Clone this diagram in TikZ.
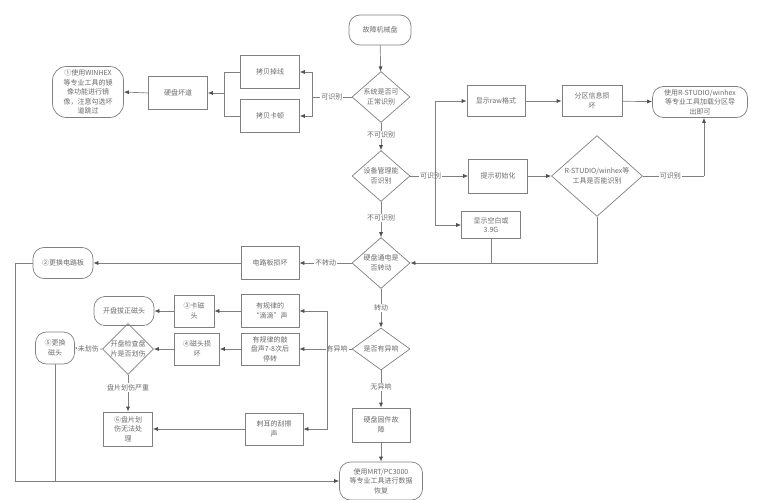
\documentclass[tikz,border=0pt]{standalone}
\usepackage{fontspec}
\setmainfont{Noto Sans CJK SC}
\usetikzlibrary{shapes.geometric,arrows.meta}
\definecolor{lc}{HTML}{808080}
\definecolor{tc}{HTML}{6A6A6A}
\definecolor{ac}{HTML}{505050}
\begin{document}
\begin{tikzpicture}[x=1pt,y=-1pt,
  every node/.style={font=\fontsize{7}{9.5}\selectfont, text=tc, align=center},
  box/.style={draw=lc, line width=0.7pt, rectangle, inner sep=1pt},
  term/.style={draw=lc, line width=0.7pt, rectangle, rounded corners=11pt, inner sep=1pt},
  dia/.style={draw=lc, line width=0.7pt, diamond, inner sep=0pt},
  lbl/.style={fill=white, inner sep=1pt},
  ln/.style={draw=lc, line width=0.7pt},
  arr/.style={ln, -{Latex[length=5pt,width=4pt,color=ac]}}]
\useasboundingbox (0,0) rectangle (763,500);
% main column
\node[term, minimum width=62pt, minimum height=30pt] (start) at (380,30) {故障机械盘};
\node[dia, minimum width=58pt, minimum height=42pt] (d1) at (381,97) {系统是否可\\正常识别};
\node[dia, minimum width=58pt, minimum height=42pt] (d2) at (381,176) {设备管理能\\否识别};
\node[dia, minimum width=58pt, minimum height=42pt] (d3) at (381,263) {硬盘通电是\\否转动};
\node[dia, minimum width=58pt, minimum height=42pt] (d4) at (381,349) {是否有异响};
\node[box, minimum width=58pt, minimum height=34pt] (fw) at (381,425) {硬盘固件故\\障};
\node[term, minimum width=83pt, minimum height=38pt] (mrt) at (381,481) {使用MRT/PC3000\\等专业工具进行数据\\恢复};
% top-left
\node[box, minimum width=59pt, minimum height=33pt] (cp1) at (270,72) {拷贝掉线};
\node[box, minimum width=59pt, minimum height=33pt] (cp2) at (270,116) {拷贝卡顿};
\node[box, minimum width=59pt, minimum height=33pt] (bad) at (178,93) {硬盘坏道};
\node[term, minimum width=71pt, minimum height=51pt, rounded corners=14pt] (win) at (88,92) {①使用WINHEX\\等专业工具的镜\\像功能进行镜\\像，注意勾选坏\\道跳过};
% right
\node[box, minimum width=58pt, minimum height=31pt] (raw) at (496,101) {显示raw格式};
\node[box, minimum width=60pt, minimum height=31pt] (part) at (592,101) {分区信息损\\坏};
\node[term, minimum width=95pt, minimum height=31pt] (rs) at (700,102) {使用R-STUDIO/winhex\\等专业工具加载分区导\\出即可};
\node[box, minimum width=59pt, minimum height=34pt] (init) at (498,176) {提示初始化};
\node[dia, minimum width=91pt, minimum height=68pt] (rsd) at (597,176) {R-STUDIO/winhex等\\工具是否能识别};
\node[box, minimum width=59pt, minimum height=27pt] (blank) at (491,225) {显示空白或\\3.9G};
% lower left
\node[box, minimum width=58pt, minimum height=33pt] (pcb) at (270,263) {电路板损坏};
\node[term, minimum width=60pt, minimum height=31pt] (pcbr) at (63,263) {②更换电路板};
\node[box, minimum width=58pt, minimum height=33pt] (dd) at (270,311) {有规律的\\“滴滴”声};
\node[box, minimum width=40pt, minimum height=32pt] (kct) at (194,311) {③卡磁\\头};
\node[term, minimum width=60pt, minimum height=29pt] (kp) at (124,311) {开盘拔正磁头};
\node[box, minimum width=58pt, minimum height=32pt] (kp2) at (270,349) {有规律的敲\\盘声7-8次后\\停转};
\node[box, minimum width=45pt, minimum height=32pt] (ct) at (197,349) {④磁头损\\坏};
\node[dia, minimum width=51pt, minimum height=42pt] (chk) at (128,349) {开盘检查盘\\片是否划伤};
\node[term, minimum width=39pt, minimum height=32pt] (rep) at (55,348) {⑤更换\\磁头};
\node[box, minimum width=49pt, minimum height=34pt] (plate) at (128,429) {⑥盘片划\\伤无法处\\理};
\node[box, minimum width=58pt, minimum height=32pt] (scr) at (274,429) {刺耳的刮擦\\声};
% junctions
\coordinate (j1) at (312,97);
\coordinate (j2) at (224,93);
\coordinate (j3) at (435,176);
\coordinate (j4) at (327,349);
\coordinate (j5) at (704,176);
\coordinate (j6) at (15,263);
% main column connectors
\draw[arr] (start) -- (d1);
\draw[arr] (d1) -- (d2) node[lbl, pos=0.45] {不可识别};
\draw[arr] (d2) -- (d3) node[lbl, pos=0.45] {不可识别};
\draw[arr] (d3) -- (d4) node[lbl, pos=0.5] {转动};
\draw[arr] (d4) -- (fw) node[lbl, pos=0.45] {无异响};
\draw[arr] (fw) -- (mrt);
% top-left
\draw[ln] (d1.west) -- (j1) node[lbl, pos=0.5] {可识别};
\draw[arr] (j1) |- (cp1.east);
\draw[arr] (j1) |- (cp2.east);
\draw[ln] (cp1.west) -| (j2);
\draw[ln] (cp2.west) -| (j2);
\draw[arr] (j2) -- (bad.east);
\draw[arr] (bad.west) -- (win.east);
% right
\draw[arr] (d2.east) -- (init.west) node[lbl, pos=0.35] {可识别};
\draw[arr] (j3) |- (raw.west);
\draw[arr] (j3) |- (blank.west);
\draw[arr] (raw) -- (part);
\draw[arr] (part) -- (rs);
\draw[arr] (init) -- (rsd);
\draw[ln] (rsd.east) -- (j5) node[lbl, pos=0.45] {可识别};
\draw[arr] (j5) -- (j5 |- rs.south);
\draw[arr] (rsd.south) |- (d3.east);
\draw[ln] (blank.south) -- (blank.south |- d3.east);
% lower left
\draw[arr] (d3.west) -- (pcb.east) node[lbl, pos=0.5] {不转动};
\draw[arr] (pcb.west) -- (pcbr.east);
\draw[arr] (pcbr.west) -- (j6) |- (mrt.west);
\draw[ln] (rep.south) -- (rep.south |- mrt.west);
\draw[arr] (d4.west) -- (kp2.east);
\node[lbl] (l4) at (337,349) {有异响};
\draw[arr] (j4) |- (dd.east);
\draw[arr] (j4) |- (scr.east);
\draw[arr] (dd) -- (kct);
\draw[arr] (kct) -- (kp);
\draw[arr] (kp2) -- (ct);
\draw[arr] (ct) -- (chk);
\draw[arr] (chk.west) -- (rep.east) node[lbl, pos=0.5] {未划伤};
\draw[arr] (chk.south) -- (plate.north) node[lbl, pos=0.35] {盘片划伤严重};
\draw[arr] (scr.west) -- (plate.east);
\end{tikzpicture}
\end{document}
